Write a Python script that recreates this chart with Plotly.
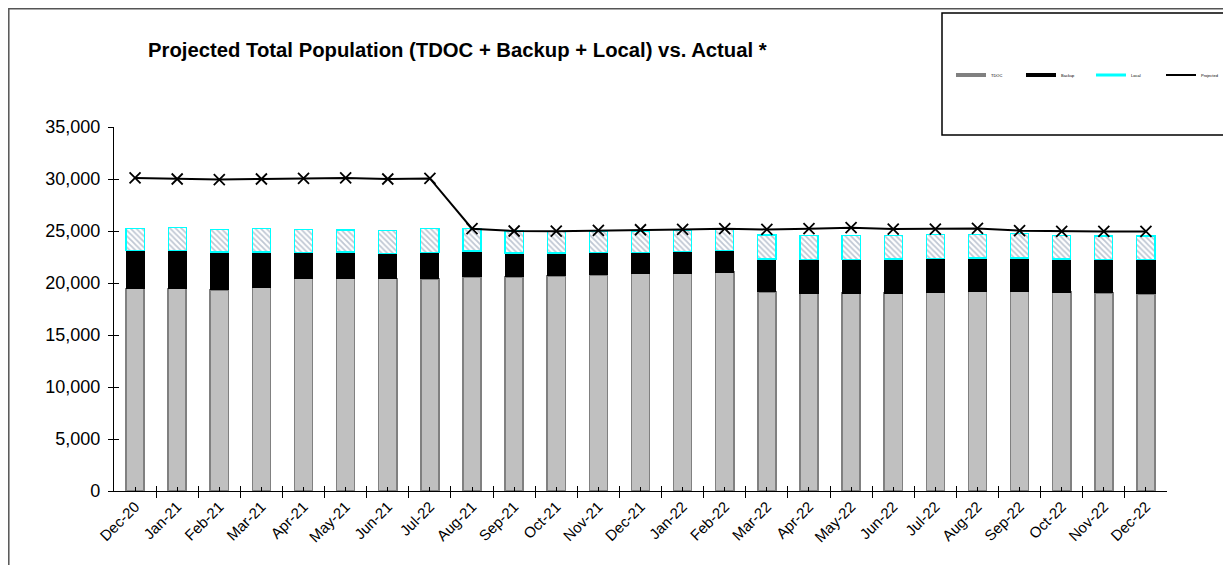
import plotly.graph_objects as go

labels = ["Dec-20", "Jan-21", "Feb-21", "Mar-21", "Apr-21", "May-21", "Jun-21", "Jul-22",
          "Aug-21", "Sep-21", "Oct-21", "Nov-21", "Dec-21", "Jan-22", "Feb-22", "Mar-22",
          "Apr-22", "May-22", "Jun-22", "Jul-22", "Aug-22", "Sep-22", "Oct-22", "Nov-22", "Dec-22"]
tdoc = [19490, 19450, 19330, 19590, 20450, 20420, 20450, 20400, 20600, 20600, 20690, 20790,
        20890, 20950, 21050, 19150, 19030, 19030, 19030, 19090, 19180, 19180, 19120, 19060, 18960]
backup = [3640, 3650, 3650, 3400, 2500, 2560, 2400, 2540, 2470, 2280, 2190, 2150,
          2080, 2090, 2050, 3150, 3240, 3240, 3270, 3280, 3220, 3220, 3180, 3210, 3310]
local = [2090, 2200, 2140, 2230, 2170, 2120, 2200, 2310, 2150, 2120, 2070, 2060,
         2030, 2020, 2020, 2310, 2310, 2310, 2280, 2300, 2270, 2370, 2280, 2250, 2250]
projected = [30100, 30000, 29950, 30000, 30050, 30100, 30000, 30050, 25220, 25000, 24980, 25060,
             25120, 25150, 25220, 25150, 25220, 25320, 25190, 25190, 25250, 25030, 24960, 24960, 24960]
y_ticks = [0, 5000, 10000, 15000, 20000, 25000, 30000, 35000]

x = list(range(len(labels)))
W, H = 1231, 565
OFF = 8  # page body margin offset
L, R, T, B = 114 - OFF, 1167 - OFF, 127 - OFF, 491 - OFF
pw, ph = R - L, B - T
def px(v): return (v - OFF - L) / pw
def py(v): return (B - (v - OFF)) / ph

FONT = "Liberation Sans, Arial, sans-serif"
bw = 0.43

fig = go.Figure()
fig.add_trace(go.Bar(x=x, y=tdoc, width=bw, name="TDOC", showlegend=False,
                     marker=dict(color="#C0C0C0", line=dict(color="#808080", width=1.5))))
fig.add_trace(go.Bar(x=x, y=backup, width=bw, name="Backup", showlegend=False,
                     marker=dict(color="#000000", line=dict(color="#000000", width=1))))
fig.add_trace(go.Bar(x=x, y=local, width=bw, name="Local", showlegend=False,
                     marker=dict(color="white", line=dict(color="#00FFFF", width=1.2),
                                 pattern=dict(shape="\\", fgcolor="#7f8fa8", bgcolor="white",
                                              size=4, solidity=0.45))))
fig.add_trace(go.Scatter(x=x, y=projected, mode="lines+markers", name="Projected", showlegend=False,
                         line=dict(color="black", width=2),
                         marker=dict(symbol="x-thin", size=11, line=dict(color="black", width=1.8))))

# legend entries (line style like the reference)
fig.add_trace(go.Scatter(x=[None], y=[None], mode="lines", name="TDOC",
                         line=dict(color="#808080", width=4)))
fig.add_trace(go.Scatter(x=[None], y=[None], mode="lines", name="Backup",
                         line=dict(color="#000000", width=4)))
fig.add_trace(go.Scatter(x=[None], y=[None], mode="lines", name="Local",
                         line=dict(color="#00FFFF", width=3)))
fig.add_trace(go.Scatter(x=[None], y=[None], mode="lines", name="Projected",
                         line=dict(color="#000000", width=2)))

# overlay axes to draw the inner half of crossing tick marks
fig.add_trace(go.Scatter(x=[None], y=[None], xaxis="x2", yaxis="y2", showlegend=False))

bounds = [i - 0.5 for i in range(len(labels) + 1)]

fig.update_layout(
    width=W, height=H,
    margin=dict(l=L, r=W - R, t=T, b=H - B, autoexpand=False),
    paper_bgcolor="white", plot_bgcolor="white",
    barmode="stack", bargap=0.57,
    font=dict(family=FONT, color="black"),
    title=dict(text="<b>Projected Total Population (TDOC + Backup + Local) vs. Actual *</b>",
               x=(148 - OFF) / W, xanchor="left", xref="container",
               y=1 - (50 - OFF) / H, yanchor="middle", yref="container", pad=dict(l=0, r=0, t=0, b=0),
               font=dict(size=20.3, family=FONT, color="black")),
    xaxis=dict(range=[-0.5, len(labels) - 0.5], tickmode="array", tickvals=x, ticktext=labels,
               tickangle=-45, ticks="inside", ticklen=4, tickcolor="black", tickwidth=1,
               showline=True, linecolor="black", linewidth=1.2, showgrid=False, zeroline=False,
               tickfont=dict(size=15, family=FONT, color="black"),
               minor=dict(tickmode="array", tickvals=bounds, ticks="outside", ticklen=6,
                          tickcolor="black", tickwidth=1, showgrid=False)),
    xaxis2=dict(overlaying="x", matches="x", tickmode="array", tickvals=bounds,
                showticklabels=False, ticks="inside", ticklen=5, tickcolor="black",
                showline=False, showgrid=False, zeroline=False, side="bottom"),
    yaxis=dict(range=[0, 35000], tickmode="array", tickvals=y_ticks,
               ticktext=[f"{v:,}" for v in y_ticks],
               ticks="outside", ticklen=5, tickcolor="black", tickwidth=1,
               showline=True, linecolor="black", linewidth=1.2, showgrid=False, zeroline=False,
               ticklabelstandoff=4,
               tickfont=dict(size=18, family=FONT, color="black")),
    yaxis2=dict(overlaying="y", matches="y", tickmode="array", tickvals=y_ticks,
                showticklabels=False, ticks="inside", ticklen=5, tickcolor="black",
                showline=False, showgrid=False, zeroline=False),
    legend=dict(orientation="h", x=px(951), xanchor="left", y=py(75), yanchor="middle",
                font=dict(size=4, family=FONT, color="black"), bgcolor="rgba(0,0,0,0)",
                borderwidth=0, entrywidth=25, entrywidthmode="pixels", traceorder="normal"),
    shapes=[
        dict(type="rect", xref="paper", yref="paper", x0=px(OFF + 0.8), x1=px(1300), y0=py(700),
             y1=py(OFF + 0.8), line=dict(color="#555555", width=1.5), fillcolor="rgba(0,0,0,0)",
             layer="above"),
        dict(type="rect", xref="paper", yref="paper", x0=px(942), x1=px(1240), y0=py(135), y1=py(13),
             line=dict(color="black", width=1.5), fillcolor="white", layer="below"),
    ],
)

fig.write_html("out.html")
